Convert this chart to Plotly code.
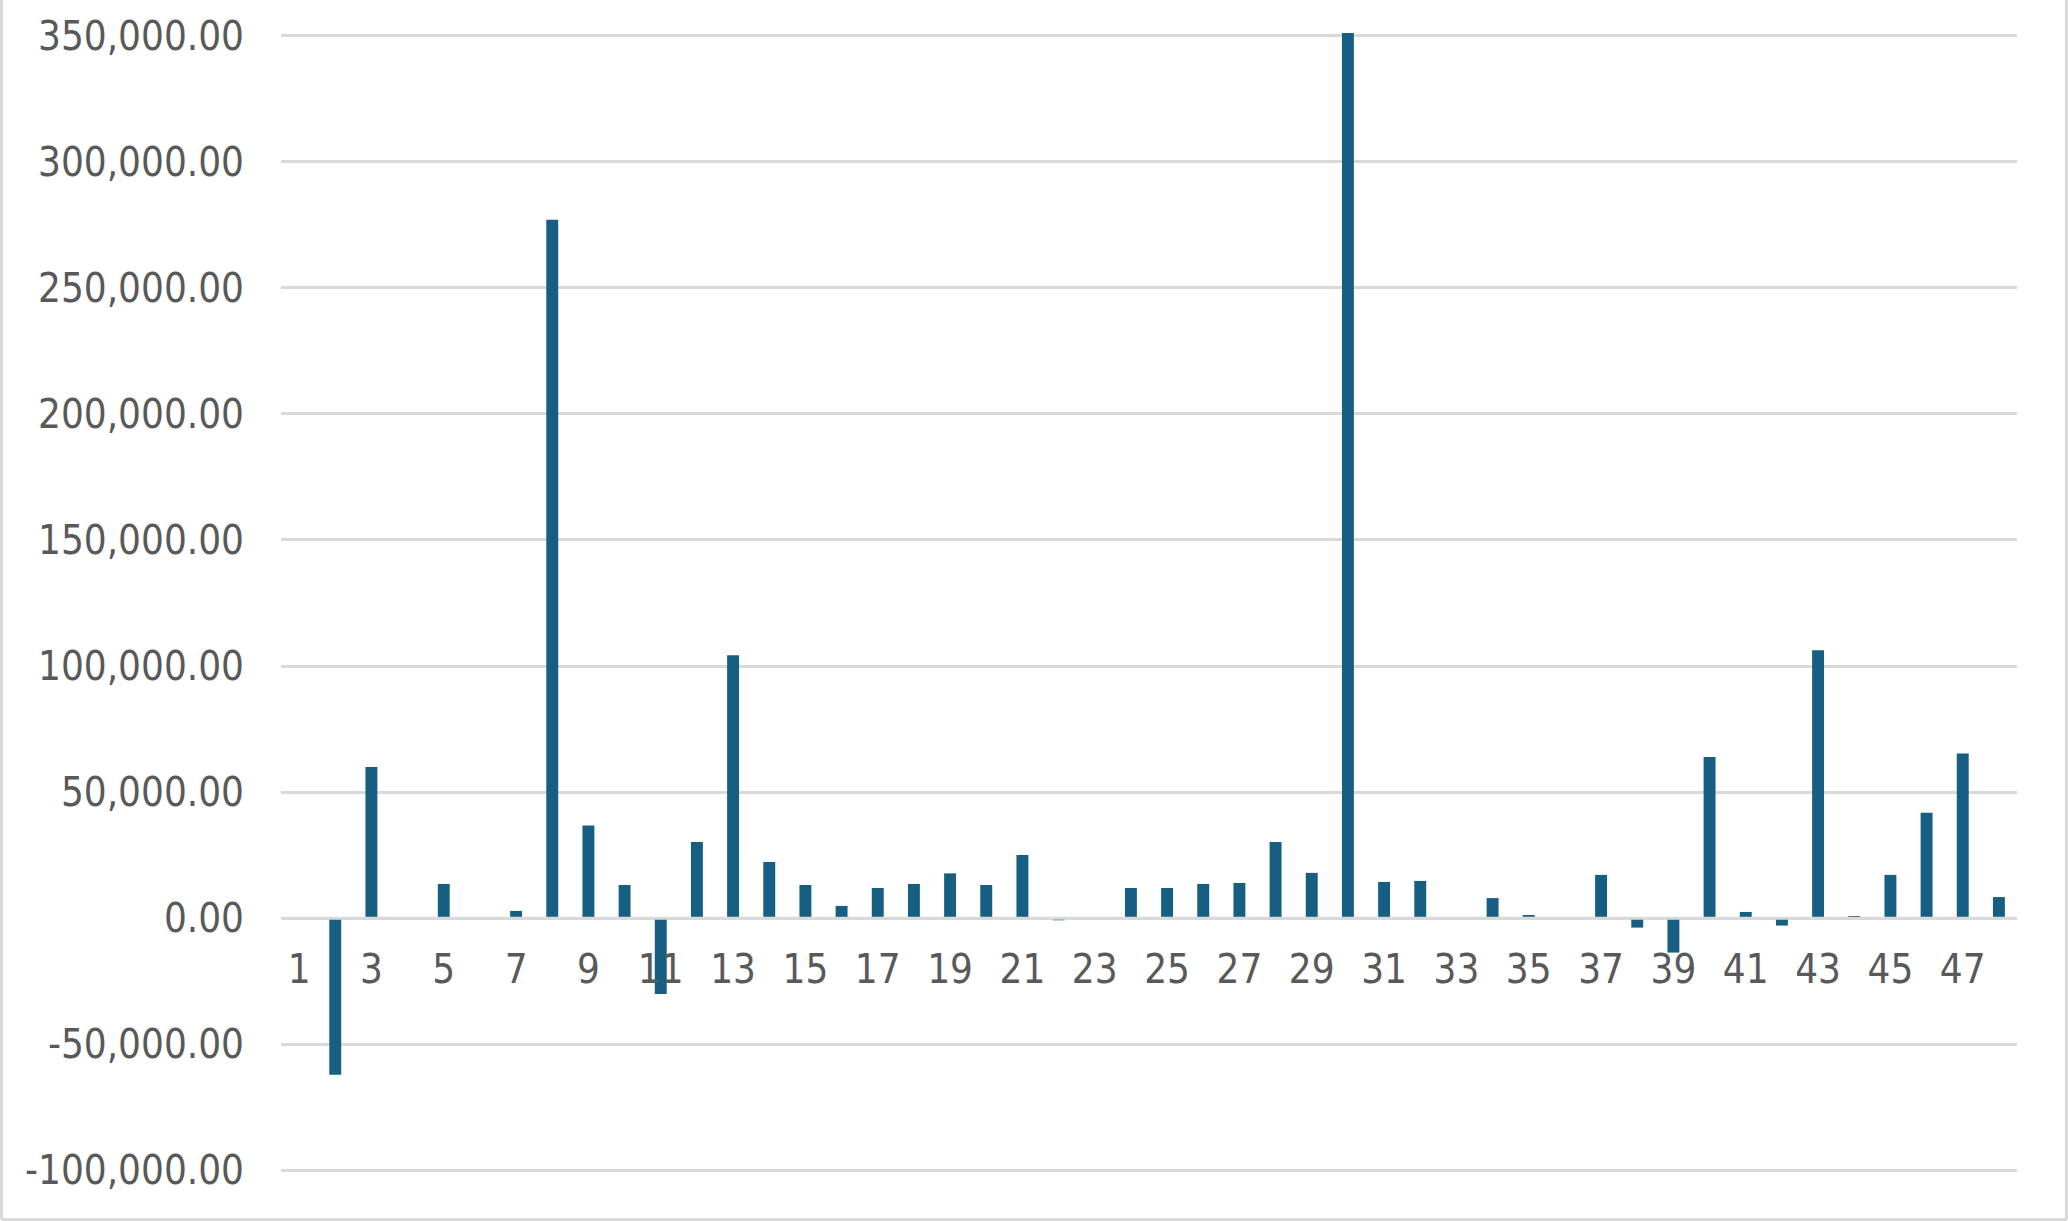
import plotly.graph_objects as go

categories = list(range(1, 49))
values = [0, -62000, 60000, 0, 13600, 0, 2900, 277000, 36800, 13200,
          -30000, 30200, 104300, 22300, 13200, 4900, 12000, 13600, 17800, 13200,
          25100, -800, 0, 12000, 12000, 13600, 14000, 30200, 18000, 351000,
          14400, 14800, 0, 8000, 1300, 0, 17200, -3700, -13600, 63900,
          2500, -2900, 106300, 900, 17200, 41800, 65300, 8400]

x_tick_vals = list(range(1, 49, 2))
x_tick_text = [str(v) for v in x_tick_vals]

y_tick_vals = [-100000, -50000, 0, 50000, 100000, 150000, 200000, 250000, 300000, 350000]
y_tick_text = ["-100,000.00", "-50,000.00", "0.00", "50,000.00", "100,000.00",
               "150,000.00", "200,000.00", "250,000.00", "300,000.00", "350,000.00"]

W, H = 2068, 1221
ML, MR, MT, MB = 281, 51, 33, 48
y_min, y_max = -101000, 351000

font = dict(family="DejaVu Sans Condensed, DejaVu Sans", size=40, color="#595959")

fig = go.Figure()
fig.add_trace(go.Bar(x=categories, y=values, marker=dict(color="#165f82", line=dict(width=0)),
                     hoverinfo="x+y"))

zero_pos = (0 - y_min) / (y_max - y_min)

fig.update_layout(
    width=W, height=H,
    margin=dict(l=ML, r=MR, t=MT, b=MB),
    paper_bgcolor="white", plot_bgcolor="white",
    bargap=0.67,
    showlegend=False,
    font=font,
    xaxis=dict(
        range=[0.5, 48.5],
        tickmode="array", tickvals=x_tick_vals, ticktext=x_tick_text,
        showgrid=False, zeroline=False, showline=False,
        anchor="free", position=zero_pos,
        ticks="", ticklabelstandoff=24,
        tickfont=font, automargin=False,
    ),
    yaxis=dict(
        range=[y_min, y_max],
        tickmode="array", tickvals=y_tick_vals, ticktext=y_tick_text,
        showgrid=True, gridcolor="#d9d9d9", gridwidth=3,
        zeroline=False, showline=False,
        ticks="", ticklabelstandoff=36,
        tickfont=font, automargin=False,
    ),
)

# zero axis line drawn over the bars, as in the reference
fig.add_shape(type="line", xref="paper", yref="y", x0=0, x1=1, y0=0, y1=0,
              line=dict(color="#d9d9d9", width=3), layer="above")

pw = W - ML - MR
ph = H - MT - MB
xl = -(ML - 1.5) / pw
xr = 1 + (MR - 1.5) / pw
yb = -(MB - 1.5) / ph
yt = 1 + (MT + 5) / ph
border = dict(color="#d9d9d9", width=3)
for x0, y0, x1, y1 in [(xl, yb, xl, yt), (xr, yb, xr, yt), (xl, yb, xr, yb)]:
    fig.add_shape(type="line", xref="paper", yref="paper",
                  x0=x0, y0=y0, x1=x1, y1=y1, line=border, layer="below")

fig.write_html("out.html", config={"displayModeBar": False},
               post_script="document.body.style.margin='0';document.body.style.overflow='hidden';")
